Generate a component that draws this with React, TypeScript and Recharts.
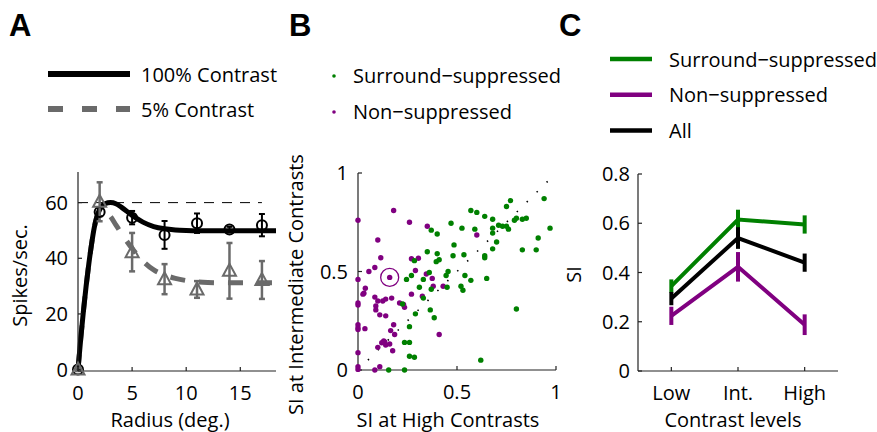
import React from "react";
import {
  ComposedChart,
  ScatterChart,
  LineChart,
  Line,
  Scatter,
  XAxis,
  YAxis,
  ErrorBar,
  ReferenceLine,
  Label,
} from "recharts";

const FONT = "'Open Sans', sans-serif";
const FS = 20;
const GREEN = "#008000";
const PURPLE = "#800080";
const GRAY = "#6a6a6a";
const AXIS = "#222";

// ---- panel A: size tuning ----
const radiusDeg = [0, 2, 5, 8, 11, 14, 17];
const rate100 = [0, 56.6, 54.6, 48.4, 52.6, 50.3, 51.9];
const rate100Err = [0.5, 1.5, 2.4, 5, 3.5, 1, 4];
const rate5 = [0, 60.3, 42.2, 32.5, 28.8, 35.5, 32.2];
const rate5Err = [0.5, 7, 6.9, 5.4, 3, 10, 6.8];

const fitRadius = [0, 0.25, 0.5, 0.75, 1, 1.25, 1.5, 1.75, 2, 2.5, 3, 3.5, 4, 5, 6, 7, 8, 9, 10, 11, 12, 14, 16, 18.3];
const fit100 = [0, 11, 21, 30, 38, 45, 51, 55, 57.5, 59.6, 60, 59.6, 58.4, 55.4, 53, 51.4, 50.6, 50.2, 50, 49.9, 49.9, 49.9, 49.9, 49.9];
const fit5 = [0, 11, 21, 30, 38, 45, 51, 55, 57, 56.8, 55, 52, 49, 43.5, 39, 35.8, 34, 32.8, 32, 31.5, 31.3, 31.2, 31.2, 31.2];

const radiusTicks = [0, 5, 10, 15];
const rateTicks = [0, 20, 40, 60];

// ---- panel B: SI at high vs intermediate contrast ----
const suppressed: [number, number][] = [
  [0.77, 0.86], [0.75, 0.83], [0.94, 0.87], [0.57, 0.81], [0.6, 0.8], [0.64, 0.78], [0.68, 0.765],
  [0.47, 0.745], [0.8, 0.77], [0.79, 0.76], [0.83, 0.765], [0.85, 0.77], [0.525, 0.72], [0.59, 0.715],
  [0.71, 0.735], [0.73, 0.73], [0.75, 0.73], [0.76, 0.715], [0.68, 0.72], [0.68, 0.695], [0.97, 0.72],
  [0.7, 0.65], [0.91, 0.67], [0.485, 0.635], [0.68, 0.615], [0.83, 0.61], [0.9, 0.61], [0.48, 0.58],
  [0.535, 0.585], [0.64, 0.58], [0.64, 0.57], [0.37, 0.71], [0.4, 0.69], [0.35, 0.6], [0.4, 0.59],
  [0.41, 0.56], [0.395, 0.55], [0.455, 0.5], [0.36, 0.495], [0.54, 0.48], [0.57, 0.455], [0.65, 0.465],
  [0.52, 0.425], [0.53, 0.405], [0.8, 0.31], [0.62, 0.05], [0.245, 0.46], [0.27, 0.48], [0.285, 0.555],
  [0.33, 0.46], [0.445, 0.48], [0.31, 0.42], [0.37, 0.41], [0.45, 0.42], [0.225, 0.335], [0.33, 0.365],
  [0.365, 0.305], [0.29, 0.285], [0.385, 0.265], [0.26, 0.22], [0.235, 0.14], [0.26, 0.14], [0.26, 0.07],
  [0.285, 0.065], [0.155, 0], [0.235, 0],
];
const nonSuppressed: [number, number][] = [
  [0, 0.76], [0.18, 0.81], [0.26, 0.75], [0.35, 0.73], [0.1, 0.66], [0.6, 0.685], [0.115, 0.57],
  [0.27, 0.565], [0.305, 0.567], [0.085, 0.52], [0.055, 0.5], [0.29, 0.505], [0.16, 0.47], [0.345, 0.487],
  [0.375, 0.465], [0.38, 0.425], [0.43, 0.425], [0, 0.46], [0.037, 0.415], [0.025, 0.385], [0.03, 0.39],
  [0, 0.34], [0, 0.33], [0.085, 0.37], [0.1, 0.35], [0.125, 0.35], [0.14, 0.36], [0.17, 0.365],
  [0.09, 0.325], [0.09, 0.305], [0.11, 0.28], [0.14, 0.275], [0.21, 0.34], [0.23, 0.333], [0.235, 0.318],
  [0.27, 0.385], [0.325, 0.375], [0, 0.23], [0, 0.215], [0, 0.205], [0.035, 0.21], [0.18, 0.23],
  [0.165, 0.2], [0.185, 0.18], [0.41, 0.18], [0.13, 0.148], [0.12, 0.138], [0.135, 0.143], [0.16, 0.132],
  [0.14, 0.127], [0.1, 0.115], [0.175, 0.098], [0, 0.088], [0, 0.017], [0, 0.003], [0.11, 0.017], [0.085, 0],
];
const highlighted: [number, number][] = [[0.16, 0.47]];
const unitTicks = [0, 0.5, 1];

// ---- panel C: mean SI per contrast level ----
const levels = [1, 2, 3];
const levelNames = ["Low", "Int.", "High"];
const siSuppressed = [0.345, 0.615, 0.595];
const siSuppressedErr = [0.027, 0.04, 0.037];
const siNon = [0.224, 0.423, 0.188];
const siNonErr = [0.037, 0.06, 0.042];
const siAll = [0.294, 0.54, 0.44];
const siAllErr = [0.027, 0.044, 0.037];
const siTicks = [0, 0.2, 0.4, 0.6, 0.8];

const fitTable = (ys: number[]) => fitRadius.map((x, i) => ({ x, y: ys[i] }));
const ptsTable = (ys: number[], errs: number[]) =>
  radiusDeg.map((x, i) => ({ x, y: ys[i], err: errs[i] }));
const xyTable = (pts: [number, number][]) => pts.map(([x, y]) => ({ x, y }));
const levelTable = levels.map((x, i) => ({
  x,
  sup: siSuppressed[i],
  supErr: siSuppressedErr[i],
  non: siNon[i],
  nonErr: siNonErr[i],
  all: siAll[i],
  allErr: siAllErr[i],
}));

const tick = { fill: "#000", fontSize: FS, fontFamily: FONT };
const axisLine = { stroke: AXIS, strokeWidth: 1.2 };
const tickLine = { stroke: AXIS, strokeWidth: 1.2 };
const labelStyle = { fill: "#000", fontSize: FS, fontFamily: FONT };
const yLabelStyle = { ...labelStyle, textAnchor: "middle" as const };

const OpenCircle = (p: any) => (
  <circle cx={p.cx} cy={p.cy} r={5} fill="none" stroke="#000" strokeWidth={2} />
);
const OpenTriangle = (p: any) => (
  <polygon
    points={`${p.cx},${p.cy - 7} ${p.cx - 6.5},${p.cy + 5} ${p.cx + 6.5},${p.cy + 5}`}
    fill="none"
    stroke={GRAY}
    strokeWidth={2}
  />
);
const dot = (color: string) => (p: any) => <circle cx={p.cx} cy={p.cy} r={2.7} fill={color} />;
const Ring = (p: any) => <circle cx={p.cx} cy={p.cy} r={9} fill="none" stroke={PURPLE} strokeWidth={1.3} />;

function PanelA() {
  return (
    <ComposedChart width={300} height={282} margin={{ top: 22, right: 24, bottom: 31, left: 38 }}>
      <XAxis
        type="number"
        dataKey="x"
        domain={[0, 18.3]}
        ticks={radiusTicks}
        height={30}
        tick={tick}
        tickSize={-4}
        tickMargin={19}
        axisLine={axisLine}
        tickLine={tickLine}
      >
        <Label value="Radius (deg.)" position="bottom" offset={12} dx={-7} style={labelStyle} />
      </XAxis>
      <YAxis
        type="number"
        dataKey="y"
        domain={[0, 71]}
        ticks={rateTicks}
        width={40}
        tick={tick}
        tickSize={-4}
        tickMargin={14}
        axisLine={axisLine}
        tickLine={tickLine}
      >
        <Label value="Spikes/sec." angle={-90} position="left" offset={18} dy={4} textAnchor="middle" style={yLabelStyle} />
      </YAxis>
      <ReferenceLine
        segment={[{ x: 0, y: 60 }, { x: 17, y: 60 }]}
        stroke="#000"
        strokeWidth={1}
        strokeDasharray="10 8"
      />
      <Line
        data={fitTable(fit5)}
        dataKey="y"
        type="monotone"
        stroke={GRAY}
        strokeWidth={5}
        strokeDasharray="15 14"
        dot={false}
        isAnimationActive={false}
      />
      <Line
        data={fitTable(fit100)}
        dataKey="y"
        type="monotone"
        stroke="#000"
        strokeWidth={5}
        dot={false}
        isAnimationActive={false}
      />
      <Scatter data={ptsTable(rate100, rate100Err)} dataKey="y" shape={OpenCircle} isAnimationActive={false}>
        <ErrorBar dataKey="err" direction="y" width={3} stroke="#000" strokeWidth={2} />
      </Scatter>
      <Scatter data={ptsTable(rate5, rate5Err)} dataKey="y" shape={OpenTriangle} isAnimationActive={false}>
        <ErrorBar dataKey="err" direction="y" width={3} stroke={GRAY} strokeWidth={2.5} />
      </Scatter>
    </ComposedChart>
  );
}

function PanelB() {
  return (
    <ScatterChart width={300} height={282} margin={{ top: 23, right: 24, bottom: 32, left: 38 }}>
      <XAxis
        type="number"
        dataKey="x"
        domain={[0, 1]}
        ticks={unitTicks}
        height={30}
        tick={tick}
        tickSize={-4}
        tickMargin={19}
        axisLine={axisLine}
        tickLine={tickLine}
      >
        <Label value="SI at High Contrasts" position="bottom" offset={13} dx={-9} style={labelStyle} />
      </XAxis>
      <YAxis
        type="number"
        dataKey="y"
        domain={[0, 1]}
        ticks={unitTicks}
        width={40}
        tick={tick}
        tickSize={-4}
        tickMargin={14}
        axisLine={axisLine}
        tickLine={tickLine}
      >
        <Label value="SI at Intermediate Contrasts" angle={-90} position="left" offset={22} dy={13} textAnchor="middle" style={yLabelStyle} />
      </YAxis>
      <ReferenceLine
        segment={[{ x: 0, y: 0 }, { x: 1, y: 1 }]}
        stroke="#000"
        strokeWidth={1.6}
        strokeDasharray="1.5 12.5"
      />
      <Scatter data={xyTable(nonSuppressed)} shape={dot(PURPLE)} isAnimationActive={false} />
      <Scatter data={xyTable(suppressed)} shape={dot(GREEN)} isAnimationActive={false} />
      <Scatter data={xyTable(highlighted)} shape={Ring} isAnimationActive={false} />
    </ScatterChart>
  );
}

function PanelC() {
  const series = [
    { key: "sup", color: GREEN },
    { key: "non", color: PURPLE },
    { key: "all", color: "#000" },
  ];
  return (
    <LineChart data={levelTable} width={317} height={282} margin={{ top: 24, right: 39, bottom: 31, left: 33 }}>
      <XAxis
        type="number"
        dataKey="x"
        domain={[0.5, 3.5]}
        ticks={levels}
        tickFormatter={(v: number) => levelNames[levels.indexOf(v)]}
        height={30}
        tick={tick}
        tickSize={-4}
        tickMargin={19}
        axisLine={axisLine}
        tickLine={tickLine}
      >
        <Label value="Contrast levels" position="bottom" offset={12} dx={-5} style={labelStyle} />
      </XAxis>
      <YAxis
        type="number"
        domain={[0, 0.8]}
        ticks={siTicks}
        width={45}
        tick={tick}
        tickSize={-4}
        tickMargin={12}
        axisLine={axisLine}
        tickLine={tickLine}
      >
        <Label value="SI" angle={-90} position="left" offset={19} dy={2} textAnchor="middle" style={yLabelStyle} />
      </YAxis>
      {series.map((s) => (
        <Line
          key={s.key}
          dataKey={s.key}
          type="linear"
          stroke={s.color}
          strokeWidth={4}
          dot={false}
          isAnimationActive={false}
        >
          <ErrorBar dataKey={`${s.key}Err`} direction="y" width={0} stroke={s.color} strokeWidth={4} />
        </Line>
      ))}
    </LineChart>
  );
}

const legendA = [
  { label: "100% Contrast", color: "#000", dash: undefined as string | undefined },
  { label: "5% Contrast", color: GRAY, dash: "15 19" },
];
const legendB = [
  { label: "Surround\u2212suppressed", color: GREEN },
  { label: "Non\u2212suppressed", color: PURPLE },
];
const legendC = [
  { label: "Surround\u2212suppressed", color: GREEN },
  { label: "Non\u2212suppressed", color: PURPLE },
  { label: "All", color: "#000" },
];

function Overlay() {
  const letter = { fontSize: 31, fontWeight: 700, fontFamily: "'Liberation Sans', Arial, sans-serif" };
  return (
    <svg width={877} height={432} style={{ position: "absolute", left: 0, top: 0, pointerEvents: "none" }}>
      <text x={9} y={36} {...letter}>A</text>
      <text x={289} y={36} {...letter}>B</text>
      <text x={559} y={36} {...letter}>C</text>
      {legendA.map((l, i) => (
        <g key={l.label} transform={`translate(0, ${74 + i * 35})`}>
          <line x1={48} x2={130} y1={0} y2={0} stroke={l.color} strokeWidth={6} strokeDasharray={l.dash} />
          <text x={141} y={7.5} fontSize={FS} fontFamily={FONT}>{l.label}</text>
        </g>
      ))}
      {legendB.map((l, i) => (
        <g key={l.label} transform={`translate(0, ${76 + i * 36})`}>
          <circle cx={334} cy={0} r={1.8} fill={l.color} />
          <text x={353} y={7} fontSize={FS} fontFamily={FONT}>{l.label}</text>
        </g>
      ))}
      {legendC.map((l, i) => (
        <g key={l.label} transform={`translate(0, ${59 + i * 35.8})`}>
          <line x1={610} x2={652} y1={0} y2={0} stroke={l.color} strokeWidth={4.5} />
          <text x={669} y={7.5} fontSize={FS} fontFamily={FONT}>{l.label}</text>
        </g>
      ))}
    </svg>
  );
}

export default function App() {
  return (
    <div style={{ position: "absolute", left: 0, top: 0, width: 877, height: 432, background: "#fff", overflow: "hidden" }}>
      <div style={{ position: "absolute", left: 0, top: 150 }}>
        <PanelA />
      </div>
      <div style={{ position: "absolute", left: 280, top: 150 }}>
        <PanelB />
      </div>
      <div style={{ position: "absolute", left: 560, top: 150 }}>
        <PanelC />
      </div>
      <Overlay />
    </div>
  );
}
